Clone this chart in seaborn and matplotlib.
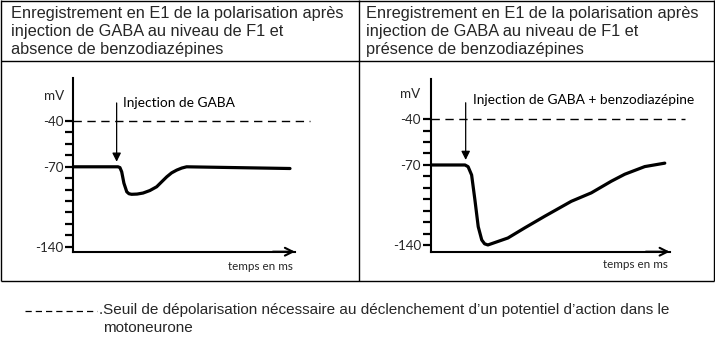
import numpy as np
import pandas as pd
import matplotlib
matplotlib.use("Agg")
import matplotlib.pyplot as plt
from matplotlib.lines import Line2D
import seaborn as sns

# ---------------- data ----------------
header_left = ["Enregistrement en E1 de la polarisation après",
               "injection de GABA au niveau de F1 et",
               "absence de benzodiazépines"]
header_right = ["Enregistrement en E1 de la polarisation après",
                "injection de GABA au niveau de F1 et",
                "présence de benzodiazépines"]
legend_lines = ["Seuil de dépolarisation nécessaire au déclenchement d’un potentiel d’action dans le",
                "motoneurone"]

# time (arbitrary ms) and membrane potential (mV)
t_sans = [0, 20.3, 21.2, 22.0, 23.0, 24.3, 25.3, 26.5, 29.0, 31.7, 34.8, 37.9, 40.2, 42.5,
          44.7, 47.0, 49.3, 51.5, 98.5]
v_sans = [-70, -70, -70.7, -74.4, -84.3, -91.9, -93.6, -94.1, -93.9, -93.0, -90.8, -87.5,
          -83.1, -78.75, -75.3, -72.9, -71.1, -70.0, -71.5]

t_avec = [0, 15.6, 17.0, 18.6, 20.1, 21.6, 23.2, 24.5, 26.0, 35.1, 42.7, 51.8, 63.9, 73.0,
          82.1, 88.2, 97.3, 106.4]
v_avec = [-70, -70, -71.5, -78.75, -100.6, -124.0, -135.6, -139.0, -140.0, -133.9, -125.1,
          -114.9, -101.8, -94.4, -84.2, -78.1, -71.4, -68.8]

threshold = -40
labeled_ticks = [-140, -70, -40]
minor_ticks = [-130, -120, -110, -100, -90, -80, -62.5, -55, -47.5]
injection_t = [19.7, 15.9]
injection_labels = ["Injection de GABA", "Injection de GABA + benzodiazépine"]
xlabel = "temps en ms"
ylabel = "mV"

# ---------------- layout ----------------
W, H = 715, 338
sns.set_theme(style="white")
plt.rcParams["font.family"] = ["Liberation Sans", "DejaVu Sans"]

fig = plt.figure(figsize=(W / 100, H / 100), dpi=100)
fig.patch.set_facecolor("white")


def fx(px):
    return px / W


def fy(py):
    return 1 - py / H


def hline(x0, x1, y, **kw):
    fig.add_artist(Line2D([fx(x0), fx(x1)], [fy(y), fy(y)], transform=fig.transFigure, **kw))


def vline(x, y0, y1, **kw):
    fig.add_artist(Line2D([fx(x), fx(x)], [fy(y0), fy(y1)], transform=fig.transFigure, **kw))


# table frame
tkw = dict(color="black", lw=1.0, solid_capstyle="butt")
hline(1, 714, 0.6, **tkw)
hline(1, 714, 60.5, **tkw)
hline(1, 714, 281, **tkw)
vline(1, 0, 281, **tkw)
vline(714, 0, 281, **tkw)
vline(358.5, 0, 281, **tkw)

# header text
for i, (l, r) in enumerate(zip(header_left, header_right)):
    yb = 17.8 + 18 * i
    fig.text(fx(11), fy(yb), l, fontsize=11.8, va="baseline", ha="left",
             family=["Liberation Sans", "DejaVu Sans"])
    fig.text(fx(366), fy(yb), r, fontsize=11.8, va="baseline", ha="left",
             family=["Liberation Sans", "DejaVu Sans"])

# bottom legend
fig.add_artist(Line2D([fx(25), fx(97)], [fy(310.7), fy(310.7)], transform=fig.transFigure,
                      color="black", lw=0.9, linestyle=(0, (5.0, 3.2))))
fig.text(fx(99), fy(314.3), "." + legend_lines[0], fontsize=11.0, va="baseline", ha="left")
fig.text(fx(103), fy(331.5), legend_lines[1], fontsize=11.0, va="baseline", ha="left")

# piecewise scale (drawing is not linear above -70 mV)
K = (46 / 30) / (80 / 70)


def fwd(v):
    v = np.asarray(v, dtype=float)
    return np.where(v > -70, -70 + (v + 70) * K, v)


def inv(u):
    u = np.asarray(u, dtype=float)
    return np.where(u > -70, -70 + (u + 70) / K, u)


PX_PER_MS = 2.2
panels = [
    dict(x0=73.3, x1=295.0, top=78.3, bottom=251.7, ylim=(-144.4, -12.2),
         t=t_sans, v=v_sans, inj=injection_t[0], lab=injection_labels[0],
         arrow_top=-28.3, lab_t=22.8, lab_v=-28.3, mv=(54, 96.5), tx=(293, 266.5)),
    dict(x0=430.7, x1=669.7, top=79.0, bottom=251.7, ylim=(-145.9, -13.9),
         t=t_avec, v=v_avec, inj=injection_t[1], lab=injection_labels[1],
         arrow_top=-29.4, lab_t=19.2, lab_v=-27.3, mv=(410, 94.5), tx=(668, 264)),
]

lato = ["Lato", "DejaVu Sans"]
for p in panels:
    ax = fig.add_axes([fx(p["x0"]), fy(p["bottom"]), (p["x1"] - p["x0"]) / W,
                       (p["bottom"] - p["top"]) / H])
    ax.set_facecolor("none")
    ax.set_yscale("function", functions=(fwd, inv))
    ax.set_xlim(0, (p["x1"] - p["x0"]) / PX_PER_MS)
    ax.set_ylim(*p["ylim"])

    df = pd.DataFrame({"t": p["t"], "v": p["v"]})
    sns.lineplot(data=df, x="t", y="v", ax=ax, color="black", lw=2.3, sort=False,
                 estimator=None, solid_capstyle="round", solid_joinstyle="round")

    # threshold line
    xe = (p["x1"] - p["x0"]) / PX_PER_MS + 7
    ax.plot([0, xe], [threshold, threshold], color="black", lw=1.0,
            linestyle=(0, (6, 4)), clip_on=False)

    # injection arrow + label
    ax.annotate("", xy=(p["inj"], -66.7), xytext=(p["inj"], p["arrow_top"]),
                arrowprops=dict(arrowstyle="-|>", color="black", lw=0.9,
                                mutation_scale=13, shrinkA=0, shrinkB=0),
                annotation_clip=False)
    ax.text(p["lab_t"], p["lab_v"], p["lab"], fontsize=9.9, va="center", ha="left",
            family=lato, color="black")

    # axes
    for s in ["top", "right"]:
        ax.spines[s].set_visible(False)
    for s in ["left", "bottom"]:
        ax.spines[s].set_color("black")
        ax.spines[s].set_linewidth(1.5)
    ax.set_xticks([])
    ax.set_yticks(labeled_ticks)
    ax.set_yticklabels([str(v) for v in labeled_ticks], family=lato, fontsize=9.6)
    ax.set_yticks(minor_ticks, minor=True)
    ax.tick_params(axis="y", which="both", direction="out", length=6, width=1.6,
                   color="black", pad=1, left=True)
    ax.set_xlabel("")
    ax.set_ylabel("")
    ax.annotate("", xy=(1.0, 0), xytext=(0.9, 0), xycoords="axes fraction",
                arrowprops=dict(arrowstyle="->", color="black", lw=1.5,
                                mutation_scale=14, shrinkA=0, shrinkB=0),
                annotation_clip=False)

    fig.text(fx(p["mv"][0]), fy(p["mv"][1]), ylabel, fontsize=9.6, ha="center",
             va="center", family=lato)
    fig.text(fx(p["tx"][0]), fy(p["tx"][1]), xlabel, fontsize=8.4, ha="right",
             va="center", family=lato)

fig.savefig("out.png", dpi=100, facecolor="white")
